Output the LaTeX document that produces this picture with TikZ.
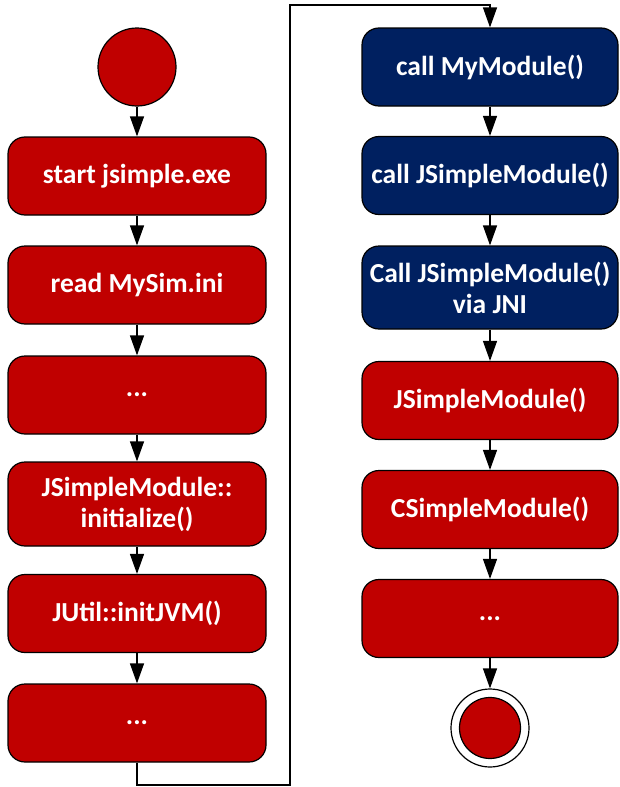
\documentclass[tikz,border=0pt]{standalone}
\usepackage{fontspec}
\setmainfont{Carlito}
\usetikzlibrary{arrows.meta}
\definecolor{boxred}{HTML}{C00000}
\definecolor{boxblue}{HTML}{002060}
\begin{document}
\begin{tikzpicture}[x=1pt,y=-1pt,
  every node/.style={font=\bfseries\fontsize{27.5}{31}\selectfont, text=white},
  stepbox/.style={draw=black, line width=1.2pt, rounded corners=17pt, minimum height=78pt, align=center, inner sep=0pt},
  leftbox/.style={stepbox, fill=boxred, minimum width=258pt},
  redbox/.style={stepbox, fill=boxred, minimum width=256pt},
  bluebox/.style={stepbox, fill=boxblue, minimum width=256pt},
  arr/.style={line width=1.2pt, -{Triangle[length=20pt,width=14pt]}},
  conn/.style={line width=1.2pt}]
\useasboundingbox (0,0) rectangle (619,787);
% left column
\node[circle, draw=black, line width=1.2pt, fill=boxred, minimum size=78pt, inner sep=0pt] (start) at (137,67) {};
\node[leftbox] (L1) at (137,176) {start jsimple.exe};
\node[leftbox] (L2) at (137,285) {read MySim.ini};
\node[leftbox] (L3) at (137,395) {...};
\node[leftbox, minimum height=84pt] (L4) at (137,504) {JSimpleModule::\\initialize()};
\node[leftbox] (L5) at (137,613.5) {JUtil::initJVM()};
\node[leftbox] (L6) at (137,723) {...};
% right column
\node[bluebox] (R1) at (490,67) {call MyModule()};
\node[bluebox] (R2) at (490,175.5) {call JSimpleModule()};
\node[bluebox, minimum height=83pt] (R3) at (490,287.5) {Call JSimpleModule()\\via JNI};
\node[redbox] (R4) at (490,400.5) {JSimpleModule()};
\node[redbox] (R5) at (490,509.5) {CSimpleModule()};
\node[redbox] (R6) at (490,618.5) {...};
\node[circle, draw=black, line width=1.2pt, fill=white, minimum size=78pt, inner sep=0pt] (endo) at (490,728) {};
\node[circle, draw=black, line width=1.2pt, fill=boxred, minimum size=61pt, inner sep=0pt] (endi) at (490,728) {};
% connectors
\draw[arr] (start) -- (L1);
\draw[arr] (L1) -- (L2);
\draw[arr] (L2) -- (L3);
\draw[arr] (L3) -- (L4);
\draw[arr] (L4) -- (L5);
\draw[arr] (L5) -- (L6);
\coordinate (c1) at (290,785);
\coordinate (c2) at (290,5);
\draw[arr] (L6.south) |- (c1) -- (c2) -| (R1.north);
\draw[arr] (R1) -- (R2);
\draw[arr] (R2) -- (R3);
\draw[arr] (R3) -- (R4);
\draw[arr] (R4) -- (R5);
\draw[arr] (R5) -- (R6);
\draw[arr] (R6) -- (endo);
\end{tikzpicture}
\end{document}
